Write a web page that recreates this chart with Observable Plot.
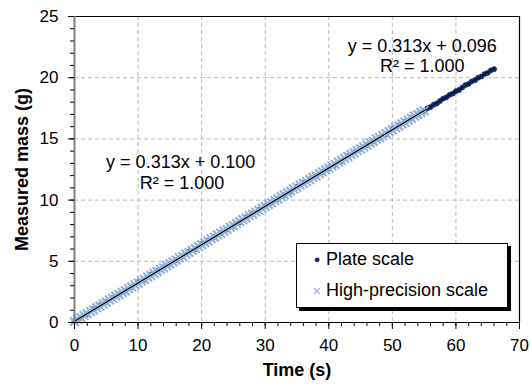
<!DOCTYPE html>
<html>
<head>
<meta charset="utf-8">
<script src="https://cdn.jsdelivr.net/npm/d3@7"></script>
<script src="https://cdn.jsdelivr.net/npm/@observablehq/plot@0.6"></script>
<style>
  html, body { margin: 0; padding: 0; background: #fff; }
  #wrap { position: relative; width: 530px; height: 385px; font-family: "Liberation Sans", Arial, sans-serif; }
  #legend { position: absolute; left: 296px; top: 243px; width: 212px; height: 65px; border: 1.5px solid #000;
            box-shadow: 3px 3px 0 #000; background: #fff; box-sizing: border-box; font-size: 18px; color: #000; }
  #legend .item { position: absolute; left: 0; white-space: nowrap; }
  #legend .sym { position: absolute; left: 15px; width: 10px; text-align: center; }
  #legend .lbl { position: absolute; left: 29px; }
</style>
</head>
<body>
<div id="wrap"></div>
<script>
// ---- data ----
const hpTime = [0,0.5,1,1.5,2,2.5,3,3.5,4,4.5,5,5.5,6,6.5,7,7.5,8,8.5,9,9.5,10,10.5,11,11.5,12,12.5,13,13.5,14,14.5,15,15.5,16,16.5,17,17.5,18,18.5,19,19.5,20,20.5,21,21.5,22,22.5,23,23.5,24,24.5,25,25.5,26,26.5,27,27.5,28,28.5,29,29.5,30,30.5,31,31.5,32,32.5,33,33.5,34,34.5,35,35.5,36,36.5,37,37.5,38,38.5,39,39.5,40,40.5,41,41.5,42,42.5,43,43.5,44,44.5,45,45.5,46,46.5,47,47.5,48,48.5,49,49.5,50,50.5,51,51.5,52,52.5,53,53.5,54,54.5,55];
const hpMass = [0.08,0.27,0.40,0.58,0.72,0.90,1.03,1.21,1.34,1.52,1.66,1.84,1.97,2.15,2.28,2.46,2.59,2.77,2.91,3.08,3.22,3.40,3.53,3.71,3.85,4.02,4.16,4.34,4.47,4.65,4.79,4.96,5.10,5.28,5.41,5.59,5.72,5.90,6.04,6.21,6.35,6.53,6.66,6.84,6.98,7.15,7.29,7.47,7.60,7.78,7.91,8.09,8.23,8.40,8.54,8.72,8.85,9.03,9.16,9.34,9.48,9.65,9.79,9.97,10.10,10.28,10.42,10.59,10.73,10.91,11.04,11.22,11.36,11.53,11.67,11.85,11.98,12.16,12.30,12.47,12.61,12.79,12.92,13.10,13.24,13.41,13.55,13.73,13.86,14.04,14.18,14.35,14.49,14.67,14.80,14.98,15.11,15.29,15.43,15.60,15.74,15.92,16.05,16.23,16.37,16.54,16.68,16.86,16.99,17.17,17.30];

const plateTime = [0,1,2,3,4,5,6,7,8,9,10,11,12,13,14,15,16,17,18,19,20,21,22,23,24,25,26,27,28,29,30,31,32,33,34,35,36,37,38,39,40,41,42,43,44,45,46,47,48,49,50,51,52,53,54,55,55.5,56,56.5,57,57.5,58,58.5,59,59.5,60,60.5,61,61.5,62,62.5,63,63.5,64,64.5,65,65.5,66];
const plateMass = [0.1,0.4,0.7,1.1,1.4,1.7,2.0,2.3,2.6,2.9,3.3,3.5,3.9,4.2,4.5,4.8,5.1,5.4,5.8,6.0,6.4,6.7,7.0,7.3,7.6,7.9,8.2,8.6,8.9,9.2,9.5,9.8,10.1,10.4,10.7,11.1,11.4,11.7,12.0,12.3,12.6,12.9,13.2,13.6,13.9,14.2,14.5,14.8,15.1,15.4,15.8,16.1,16.4,16.7,17.0,17.3,17.5,17.6,17.8,17.9,18.1,18.3,18.4,18.6,18.7,18.9,19.0,19.2,19.4,19.5,19.7,19.8,20.0,20.1,20.3,20.4,20.6,20.7];

// linear fits (endpoints of the trendlines)
const fitHpTime = [0, 55];
const fitHpMass = [0.100, 17.315];
const fitPlateTime = [0, 66];
const fitPlateMass = [0.096, 20.754];

const eqText = ["y = 0.313x + 0.100", "R² = 1.000", "y = 0.313x + 0.096", "R² = 1.000"];
const eqAtTime = [16.7, 16.9, 54.7, 54.7];
const eqAtMass = [13.1, 11.35, 22.6, 20.9];

const xMajor = [0,10,20,30,40,50,60,70];
const xMinor = [0,2,4,6,8,10,12,14,16,18,20,22,24,26,28,30,32,34,36,38,40,42,44,46,48,50,52,54,56,58,60,62,64,66,68,70];
const xGrid = [10,20,30,40,50,60];
const yMajor = [0,5,10,15,20,25];
const yMinor = [0,1,2,3,4,5,6,7,8,9,10,11,12,13,14,15,16,17,18,19,20,21,22,23,24,25];
const yGrid = [5,10,15,20];

const xTitle = "Time (s)";
const yTitle = "Measured mass (g)";
const seriesNames = ["Plate scale", "High-precision scale"];

// ---- build ----
const hp = hpTime.map((t, i) => ({t, m: hpMass[i]}));
const plate = plateTime.map((t, i) => ({t, m: plateMass[i]}));
const fit1 = fitHpTime.map((t, i) => ({t, m: fitHpMass[i]}));
const fit2 = fitPlateTime.map((t, i) => ({t, m: fitPlateMass[i]}));
const eqs = eqText.map((s, i) => ({s, t: eqAtTime[i], m: eqAtMass[i]}));

const dark = "#102a6e";
const light = "#95b3d7";

const chart = Plot.plot({
  width: 530,
  height: 385,
  marginLeft: 74,
  marginRight: 11,
  marginTop: 16,
  marginBottom: 63,
  style: {fontFamily: "'Liberation Sans', Arial, sans-serif", fontSize: "17px", color: "#000", background: "#fff"},
  x: {domain: [0, 70], axis: null, label: null},
  y: {domain: [0, 25], axis: null, label: null},
  marks: [
    Plot.gridX(xGrid, {stroke: "#b8b8b8", strokeOpacity: 1, strokeDasharray: "4,3"}),
    Plot.gridY(yGrid, {stroke: "#b8b8b8", strokeOpacity: 1, strokeDasharray: "4,3"}),
    Plot.dot(plate, {x: "t", y: "m", r: 2.6, fill: dark, stroke: dark, strokeWidth: 0.5}),
    Plot.dot(hp, {x: "t", y: "m", symbol: "times", r: 4, stroke: light, strokeWidth: 2.2}),
    Plot.line(fit1, {x: "t", y: "m", stroke: "#000", strokeWidth: 1}),
    Plot.line(fit2, {x: "t", y: "m", stroke: "#000", strokeWidth: 0.8}),
    Plot.ruleY([25], {stroke: "#000", strokeWidth: 1.2}),
    Plot.ruleX([70], {stroke: "#000", strokeWidth: 1.2}),
    Plot.ruleY([0], {stroke: "#000", strokeWidth: 1.2}),
    Plot.ruleX([0], {stroke: "#808080", strokeWidth: 2}),
    Plot.axisX(xMinor, {tickSize: 4, text: null, stroke: "#000", label: null}),
    Plot.axisX(xMajor, {tickSize: 7, text: null, stroke: "#000", label: null}),
    Plot.axisX(xMajor, {tickSize: 0, tickPadding: 16, fill: "#000", label: null}),
    Plot.axisY(yMinor, {tickSize: 4, text: null, stroke: "#000", label: null}),
    Plot.axisY(yMajor, {tickSize: 6, text: null, stroke: "#000", label: null}),
    Plot.axisY(yMajor, {tickSize: 0, tickPadding: 16, fill: "#000", label: null}),
    Plot.text([xTitle], {frameAnchor: "bottom", dy: 53, fontSize: 18, fontWeight: "bold", fill: "#000", textAnchor: "middle"}),
    Plot.text([yTitle], {frameAnchor: "left", rotate: -90, dx: -52, fontSize: 18, fontWeight: "bold", fill: "#000", textAnchor: "middle"}),
    Plot.text(eqs, {x: "t", y: "m", text: "s", fontSize: 18, fill: "#000", textAnchor: "middle"})
  ]
});

const wrap = document.getElementById("wrap");
wrap.appendChild(chart);

const legend = document.createElement("div");
legend.id = "legend";
legend.innerHTML =
  `<div class="item" style="top:5px;width:100%"><span class="sym" style="color:${dark};font-size:11px;top:4px">&#9679;</span><span class="lbl">${seriesNames[0]}</span></div>` +
  `<div class="item" style="top:36px;width:100%"><span class="sym" style="color:${light};font-size:15px;top:2px">&#215;</span><span class="lbl">${seriesNames[1]}</span></div>`;
wrap.appendChild(legend);
</script>
</body>
</html>
